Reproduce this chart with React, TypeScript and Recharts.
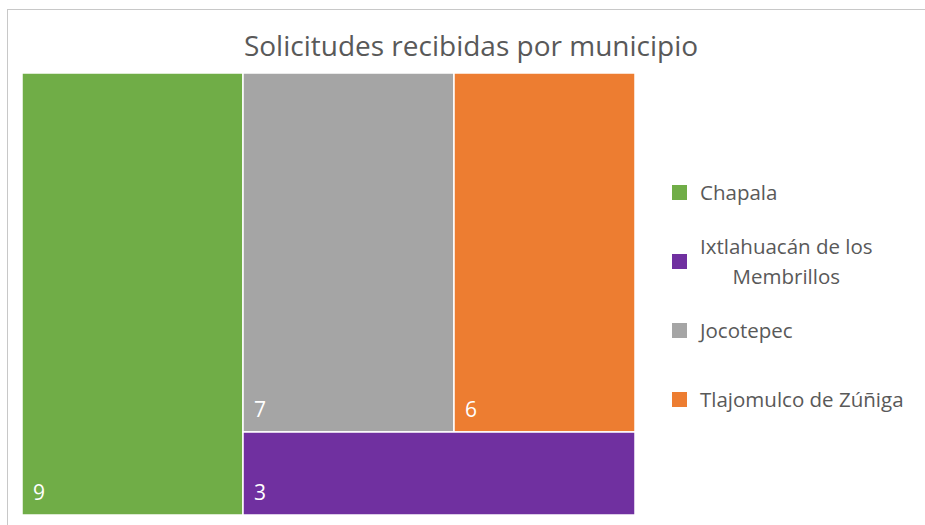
import React from "react";
import { Treemap } from "recharts";

const municipios = [
  "Chapala",
  "Ixtlahuacán de los Membrillos",
  "Jocotepec",
  "Tlajomulco de Zúñiga",
];
const solicitudes = [9, 3, 7, 6];

const colores: Record<string, string> = {
  Chapala: "#70AD47",
  "Ixtlahuacán de los Membrillos": "#7030A0",
  Jocotepec: "#A5A5A5",
  "Tlajomulco de Zúñiga": "#ED7D31",
};

// Excel orders the tiles by size, biggest first
const treeData = municipios
  .map((name, i) => ({ name, value: solicitudes[i] }))
  .sort((a, b) => b.value - a.value);

const FONT = "'Open Sans', sans-serif";
const TEXT = "#595959";

function Tile(props: any) {
  const { x, y, width, height, depth, name, value } = props;
  if (depth !== 1) return null;
  return (
    <g>
      <rect
        x={x}
        y={y}
        width={width}
        height={height}
        fill={colores[name]}
        stroke="#fff"
        strokeWidth={1.5}
      />
      <text
        x={x + 11}
        y={y + height - 15}
        fill="#fff"
        fontFamily={FONT}
        fontSize={21}
      >
        {value}
      </text>
    </g>
  );
}

const legendRows = [
  { name: "Chapala", top: 192 },
  { name: "Ixtlahuacán de los Membrillos", top: 261 },
  { name: "Jocotepec", top: 330 },
  { name: "Tlajomulco de Zúñiga", top: 399 },
];

export default function App() {
  return (
    <div style={{ position: "relative", width: 925, height: 525, overflow: "hidden", background: "#fff" }}>
      <style>{`body{margin:0;overflow:hidden}`}</style>
      <div
        style={{
          position: "absolute",
          left: 7,
          top: 9,
          width: 960,
          height: 560,
          border: "1px solid #c8c8c8",
          boxSizing: "border-box",
        }}
      />
      <div
        style={{
          position: "absolute",
          left: 0,
          width: 942,
          top: 29,
          textAlign: "center",
          fontFamily: FONT,
          fontSize: 28,
          lineHeight: "32px",
          color: TEXT,
        }}
      >
        Solicitudes recibidas por municipio
      </div>
      <div style={{ position: "absolute", left: 22, top: 73 }}>
        <Treemap
          width={613}
          height={442}
          data={treeData}
          dataKey="value"
          nameKey="name"
          aspectRatio={1}
          isAnimationActive={false}
          content={<Tile />}
        />
      </div>
      {legendRows.map((r) => {
        const lines = r.name === "Ixtlahuacán de los Membrillos" ? ["Ixtlahuacán de los", "Membrillos"] : [r.name];
        return (
          <div key={r.name}>
            <div
              style={{
                position: "absolute",
                left: 672,
                top: r.top - 7,
                width: 15,
                height: 15,
                background: colores[r.name],
              }}
            />
            <div
              style={{
                position: "absolute",
                left: 700,
                top: r.top - (lines.length * 30) / 2,
                fontFamily: FONT,
                fontSize: 20.5,
                lineHeight: "30px",
                color: TEXT,
                textAlign: "center",
                whiteSpace: "nowrap",
              }}
            >
              {lines.map((l) => (
                <div key={l}>{l}</div>
              ))}
            </div>
          </div>
        );
      })}
    </div>
  );
}
